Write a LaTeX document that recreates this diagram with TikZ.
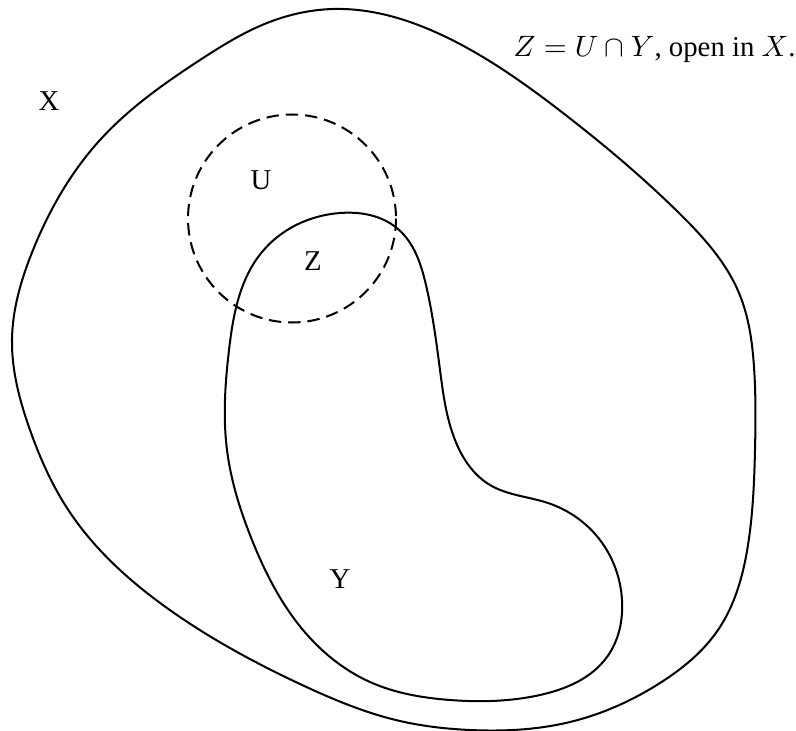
\documentclass[tikz,border=0pt]{standalone}
\usepackage{fontspec}
\setmainfont{Liberation Serif}
\usetikzlibrary{hobby}
\begin{document}
\begin{tikzpicture}[x=0.372pt,y=-0.372pt,
  curve/.style={line width=0.75pt,black,use Hobby shortcut,closed=true},
  dashcurve/.style={line width=0.75pt,black,dash pattern=on 4.6pt off 2.6pt},
  lbl/.style={inner sep=0pt,font=\fontsize{10.7}{12.8}\selectfont}]
\useasboundingbox (0,0) rectangle (796,731);
% outer set X
\draw[curve] (333,9) .. (446,37) .. (563,113) .. (679,213) .. (739,293)
 .. (754,367) .. (755,450) .. (748,545) .. (718,630) .. (660,683)
 .. (570,722) .. (470,730) .. (400,721) .. (300,684) .. (167,608)
 .. (67,508) .. (30,430) .. (12,340) .. (33,250) .. (100,140)
 .. (200,60) .. (267,23);
% set Y
\draw[curve] (340,213) .. (398,229) .. (426,285) .. (440,370) .. (455,440)
 .. (490,485) .. (548,503) .. (600,540) .. (622,600) .. (607,657)
 .. (540,695) .. (450,700) .. (370,682) .. (303,630) .. (252,540)
 .. (227,450) .. (229,350) .. (262,252);
% open set U
\draw[dashcurve] (292,218.5) circle[radius=104];
% labels
\node[lbl] (labX) at (49,101) {X};
\node[lbl] (labU) at (261,180) {U};
\node[lbl] (labZ) at (313,261) {Z};
\node[lbl] (labY) at (340,579) {Y};
\node[lbl,anchor=base] (caption) at (654.5,57) {$Z=U\cap Y$, open in $X$.};
\end{tikzpicture}
\end{document}
